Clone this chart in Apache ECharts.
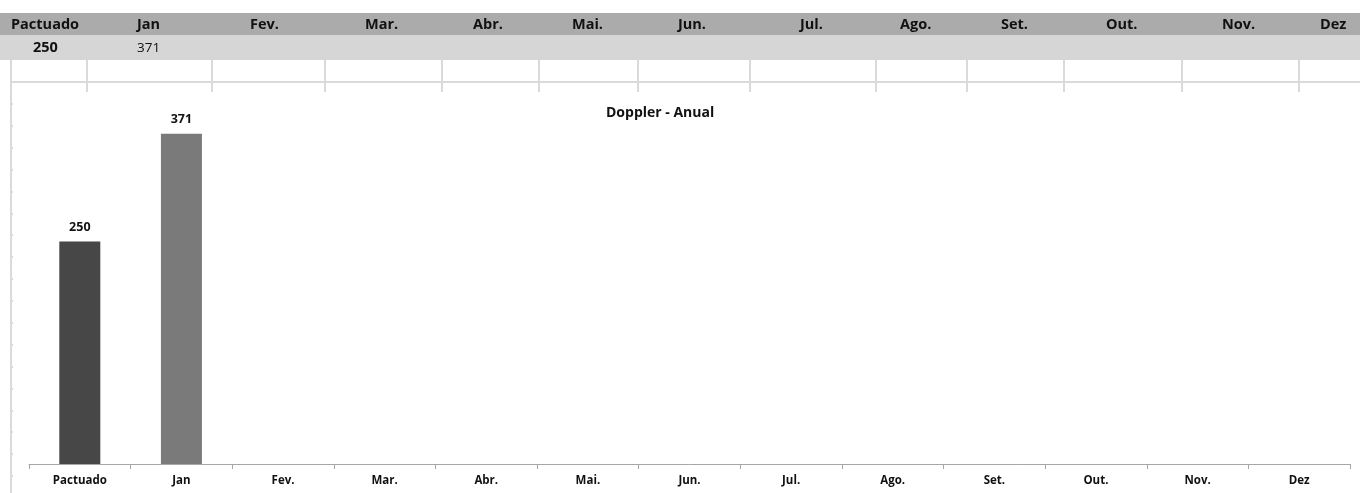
<!DOCTYPE html>
<html>
<head>
<meta charset="utf-8">
<script src="https://cdn.jsdelivr.net/npm/echarts@6/dist/echarts.min.js"></script>
<style>
    html, body { margin: 0; padding: 0; background: #fff; }
    #wrap { position: relative; width: 1360px; height: 493px; overflow: hidden; font-family: "Open Sans", sans-serif; }
    #chart { position: absolute; left: 0; top: 0; width: 1360px; height: 493px; }
    .row1 { position: absolute; left: 0; top: 13px; width: 1360px; height: 22px; background: #ababab; }
    .row2 { position: absolute; left: 0; top: 35px; width: 1360px; height: 25px; background: #d6d6d6; }
    .cell { position: absolute; font-size: 14.5px; line-height: 20px; color: #111; white-space: nowrap; }
    .vline { position: absolute; width: 2px; background: #dadada; }
    .hline { position: absolute; height: 2px; background: #dadada; }
</style>
</head>
<body>
<div id="wrap">
    <div class="row1"></div>
    <div class="row2"></div>
    <div id="chart"></div>
</div>
<script>
    // dados
    var categories = ["Pactuado", "Jan", "Fev.", "Mar.", "Abr.", "Mai.", "Jun.", "Jul.", "Ago.", "Set.", "Out.", "Nov.", "Dez"];
    var values = [250, 371, null, null, null, null, null, null, null, null, null, null, null];
    var headerValues = ["250", "371"];
    var chartTitle = "Doppler - Anual";

    // posicoes da planilha
    var headerX = [11, 137, 250, 365, 473, 572, 678, 800, 900, 1001, 1106, 1222, 1320];
    var valueX = [33, 137];
    var gridX = [10, 86, 211, 324, 441, 538, 637, 749, 875, 966, 1063, 1181, 1298];

    var wrap = document.getElementById("wrap");
    for (var i = 0; i < categories.length; i++) {
        var c = document.createElement("div");
        c.className = "cell";
        c.style.left = headerX[i] + "px";
        c.style.top = "14px";
        c.style.fontWeight = "bold";
        c.textContent = categories[i];
        wrap.appendChild(c);
    }
    for (var i = 0; i < headerValues.length; i++) {
        var v = document.createElement("div");
        v.className = "cell";
        v.style.left = valueX[i] + "px";
        v.style.top = "37px";
        v.style.fontWeight = i == 0 ? "bold" : "normal";
        v.style.fontSize = i == 0 ? "14.5px" : "13.5px";
        v.textContent = headerValues[i];
        wrap.appendChild(v);
    }
    for (var i = 0; i < gridX.length; i++) {
        var l = document.createElement("div");
        l.className = "vline";
        l.style.left = gridX[i] + "px";
        l.style.top = "60px";
        l.style.height = (i == 0 ? 433 : 32) + "px";
        wrap.appendChild(l);
    }
    var h = document.createElement("div");
    h.className = "hline";
    h.style.left = "10px";
    h.style.top = "81px";
    h.style.width = "1350px";
    wrap.appendChild(h);
    for (var y = 103; y < 493; y += 21.9) {
        var t = document.createElement("div");
        t.className = "hline";
        t.style.left = "10px";
        t.style.top = Math.round(y) + "px";
        t.style.width = "3px";
        wrap.appendChild(t);
    }

    var myChart = echarts.init(document.getElementById("chart"));
    var option = {
        animation: false,
        title: {
            text: chartTitle,
            left: 601,
            top: 101,
            textStyle: { fontFamily: "Open Sans", fontSize: 14, fontWeight: "bold", color: "#111" }
        },
        grid: { left: 29, right: 10, top: 108, bottom: 29 },
        xAxis: {
            type: "category",
            data: categories,
            axisLine: { lineStyle: { color: "#a6a6a6", width: 1 } },
            axisTick: { show: true, length: 5, lineStyle: { color: "#a6a6a6" } },
            axisLabel: { fontFamily: "Open Sans", fontSize: 11.5, fontWeight: "bold", color: "#111", margin: 11 }
        },
        yAxis: {
            type: "value",
            min: 0,
            max: 400,
            show: false,
            splitLine: { show: false }
        },
        series: [
            {
                name: chartTitle,
                type: "bar",
                barWidth: 41,
                data: values.map(function (v, i) {
                    return { value: v, itemStyle: { color: i == 0 ? "#474747" : "#7a7a7a" } };
                }),
                label: {
                    show: true,
                    position: "top",
                    distance: 8,
                    fontFamily: "Open Sans",
                    fontSize: 12.5,
                    fontWeight: "bold",
                    color: "#111"
                }
            }
        ]
    };
    myChart.setOption(option);
</script>
</body>
</html>
